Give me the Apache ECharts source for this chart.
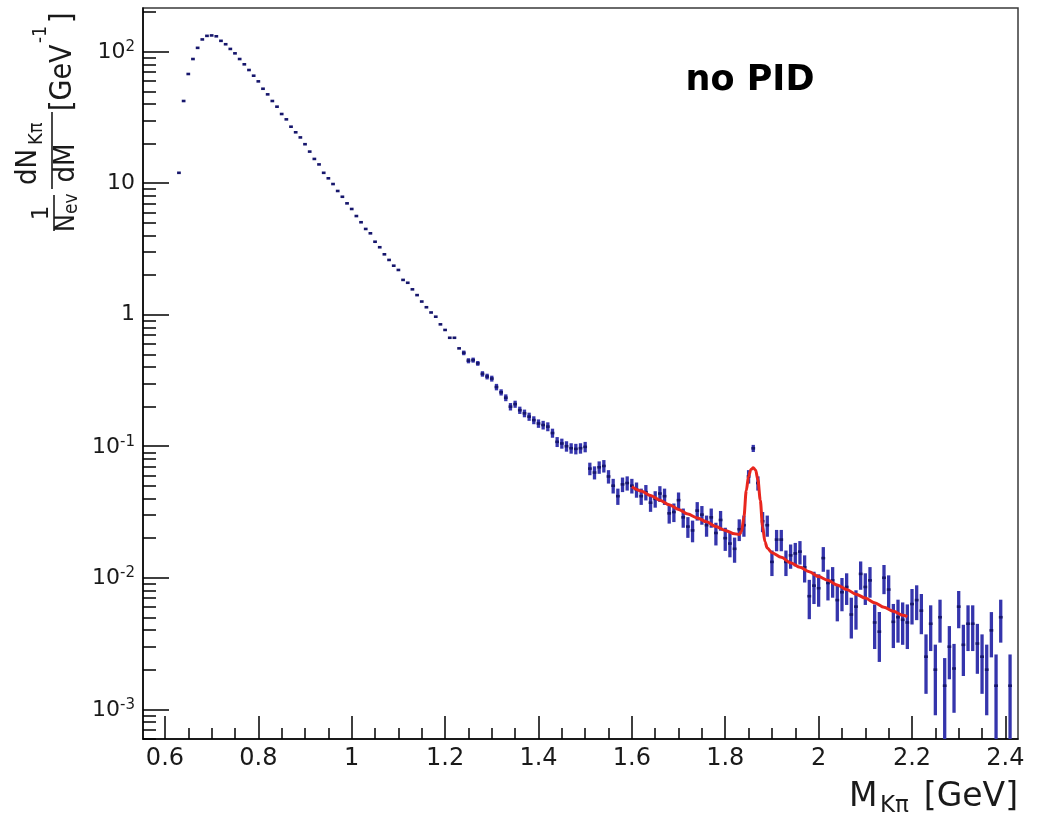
<!DOCTYPE html>
<html>
<head>
<meta charset="utf-8">
<script src="https://cdn.jsdelivr.net/npm/echarts@6/dist/echarts.min.js"></script>
<style>
html,body{margin:0;padding:0;background:#fff;}
#chart{width:1038px;height:816px;}
</style>
</head>
<body>
<div id="chart"></div>
<script>
// ---------------- data ----------------
var massBins = [
  0.63,0.64,0.65,0.66,0.67,0.68,0.69,
  0.70,0.71,0.72,0.73,0.74,0.75,0.76,0.77,0.78,0.79,
  0.80,0.81,0.82,0.83,0.84,0.85,0.86,0.87,0.88,0.89,
  0.90,0.91,0.92,0.93,0.94,0.95,0.96,0.97,0.98,0.99,
  1.00,1.01,1.02,1.03,1.04,1.05,1.06,1.07,1.08,1.09,
  1.10,1.11,1.12,1.13,1.14,1.15,1.16,1.17,1.18,1.19,
  1.20,1.21,1.22,1.23,1.24,1.25,1.26,1.27,1.28,1.29,
  1.30,1.31,1.32,1.33,1.34,1.35,1.36,1.37,1.38,1.39,
  1.40,1.41,1.42,1.43,1.44,1.45,1.46,1.47,1.48,1.49,
  1.50,1.51,1.52,1.53,1.54,1.55,1.56,1.57,1.58,1.59,
  1.60,1.61,1.62,1.63,1.64,1.65,1.66,1.67,1.68,1.69,
  1.70,1.71,1.72,1.73,1.74,1.75,1.76,1.77,1.78,1.79,
  1.80,1.81,1.82,1.83,1.84,1.85,1.86,1.87,1.88,1.89,
  1.90,1.91,1.92,1.93,1.94,1.95,1.96,1.97,1.98,1.99,
  2.00,2.01,2.02,2.03,2.04,2.05,2.06,2.07,2.08,2.09,
  2.10,2.11,2.12,2.13,2.14,2.15,2.16,2.17,2.18,2.19,
  2.20,2.21,2.22,2.23,2.24,2.25,2.26,2.27,2.28,2.29,
  2.30,2.31,2.32,2.33,2.34,2.35,2.36,2.37,2.38,2.39,
  2.40,2.41
];
var yields = [
  12.0,42.2,67.7,88.0,107,124,132,
  133,131,121,114,105,97.2,88.0,80.2,72.6,65.7,
  59.5,52.3,47.4,42.2,38.2,33.6,30.6,26.9,24.4,22.3,
  19.8,17.4,15.3,13.9,12.0,10.9,9.86,8.73,7.89,7.03,
  6.37,5.63,5.05,4.49,4.16,3.59,3.26,2.88,2.61,2.36,
  2.19,1.84,1.75,1.56,1.41,1.26,1.14,1.04,0.966,0.845,
  0.766,0.668,0.668,0.555,0.513,0.447,0.452,0.427,0.355,0.339,
  0.327,0.282,0.257,0.234,0.200,0.209,0.188,0.178,0.168,0.158,
  0.149,0.145,0.141,0.126,0.108,0.105,0.100,0.0966,0.0955,0.0966,
  0.0989,0.0676,0.0631,0.0692,0.0708,0.0589,0.0501,0.0417,0.0513,0.0525,
  0.0501,0.0468,0.0417,0.0447,0.0372,0.0398,0.0437,0.0417,0.0309,0.0316,
  0.0389,0.0288,0.0245,0.0229,0.0324,0.0302,0.0251,0.0288,0.0219,0.0275,
  0.0200,0.0182,0.0166,0.0234,0.0251,0.0589,0.0964,0.0525,0.0269,0.0251,
  0.0132,0.0195,0.0195,0.0132,0.0148,0.0153,0.0158,0.0120,0.00724,0.00871,
  0.00832,0.0141,0.00912,0.00955,0.00676,0.00776,0.00851,0.00525,0.00603,0.0107,
  0.00851,0.00955,0.00457,0.00389,0.0100,0.00813,0.00462,0.00501,0.00479,0.00457,
  0.00631,0.00676,0.00562,0.00251,0.00447,0.00200,0.00501,0.00151,0.00299,0.00204,
  0.00603,0.00309,0.00447,0.00447,0.00316,0.00251,0.00200,0.00398,0.00151,0.00501,
  null,0.00151
];
var yieldErrors = [
  0,0,0,0,0,0,0,
  0,0,0,0,0,0,0,0,0,0,
  0,0,0,0,0,0,0,0,0,0,
  0,0,0,0,0,0,0,0,0,0,
  0,0,0,0,0,0,0,0,0,0,
  0,0,0,0,0,0,0,0,0,0,
  0,0,0,0,0.021,0.020,0.020,0.018,0.017,0.017,
  0.017,0.016,0.014,0.014,0.013,0.013,0.012,0.012,0.012,0.011,
  0.011,0.011,0.011,0.010,0.0094,0.0092,0.0091,0.0088,0.0088,0.0088,
  0.0090,0.0074,0.0072,0.0075,0.0077,0.0069,0.0064,0.0059,0.0065,0.0065,
  0.0064,0.0062,0.0059,0.0060,0.0055,0.0057,0.0060,0.0059,0.0051,0.0051,
  0.0056,0.0048,0.0044,0.0043,0.0052,0.0049,0.0046,0.0048,0.0043,0.0047,
  0.0040,0.0039,0.0036,0.0044,0.0046,0.0069,0.0060,0.0065,0.0047,0.0046,
  0.0029,0.0036,0.0036,0.0029,0.0031,0.0031,0.0032,0.0028,0.0024,0.0024,
  0.0023,0.0030,0.0024,0.0025,0.0021,0.0022,0.0023,0.0018,0.0020,0.0026,
  0.0023,0.0025,0.0017,0.0016,0.0025,0.0023,0.0017,0.0018,0.0017,0.0017,
  0.0019,0.0020,0.0019,0.0012,0.0017,0.0011,0.0018,0.00094,0.0013,0.0011,
  0.0019,0.0013,0.0017,0.0017,0.0013,0.0012,0.0011,0.0015,0.0011,0.0018,
  null,0.0011
];
var fitMass = [
  1.60,1.62,1.64,1.66,1.68,1.70,1.72,1.74,1.76,1.78,1.80,1.82,1.83,
  1.835,1.84,1.845,1.85,1.855,1.86,1.865,1.87,1.875,1.88,1.885,1.89,
  1.90,1.92,1.94,1.96,1.98,2.00,2.02,2.04,2.06,2.08,2.10,2.12,2.14,2.16,2.18,2.19
];
var fitValues = [
  0.0492,0.0457,0.0422,0.0389,0.0359,0.0331,0.0305,0.0285,0.0266,0.0245,0.0229,0.0216,0.0213,
  0.0225,0.0290,0.0460,0.0590,0.0665,0.0685,0.0660,0.0555,0.0390,0.0245,0.0188,0.0168,
  0.0155,0.0143,0.0130,0.0120,0.0111,0.0102,0.00955,0.00881,0.00813,0.00750,0.00700,0.00646,0.00596,0.00556,0.00519,0.00507
];
var xMajorTicks = [0.6,0.8,1.0,1.2,1.4,1.6,1.8,2.0,2.2,2.4];
var xMinorTicks = [0.65,0.70,0.75,0.85,0.90,0.95,1.05,1.10,1.15,1.25,1.30,1.35,1.45,1.50,1.55,
  1.65,1.70,1.75,1.85,1.90,1.95,2.05,2.10,2.15,2.25,2.30,2.35];
var yMajorTicks = [0.001,0.01,0.1,1,10,100];
var yMinorTicks = [0.0006,0.0007,0.0008,0.0009,
  0.002,0.003,0.004,0.005,0.006,0.007,0.008,0.009,
  0.02,0.03,0.04,0.05,0.06,0.07,0.08,0.09,
  0.2,0.3,0.4,0.5,0.6,0.7,0.8,0.9,
  2,3,4,5,6,7,8,9,
  20,30,40,50,60,70,80,90,200];
var X_MIN = 0.553, X_MAX = 2.427;
var Y_MIN = 0.000594, Y_MAX = 215;
var BIN_HALF = 0.004;

// ---------------- build ----------------
var pts = [];
for (var i = 0; i < massBins.length; i++) {
  if (yields[i] == null) continue;
  pts.push([massBins[i], yields[i], yieldErrors[i] || 0]);
}
var fitData = fitMass.map(function (m, i) { return [m, fitValues[i]]; });

var FONT = 'DejaVu Sans';
var TXT = '#1a1a1a';
var chart = echarts.init(document.getElementById('chart'), null, {renderer: 'canvas'});

var axisCommonX = {type: 'value', min: X_MIN, max: X_MAX, gridIndex: 0, position: 'bottom', splitLine: {show: false}};
var axisCommonY = {type: 'log', logBase: 10, min: Y_MIN, max: Y_MAX, gridIndex: 0, position: 'left', splitLine: {show: false}};

function ttl(x, y, text, size, align, sy) {
  return {type: 'text', x: x, y: y, scaleY: sy || 1.12,
    style: {text: text, font: size + 'px "DejaVu Sans"', fill: TXT, align: align, verticalAlign: 'middle'}};
}

var option = {
  animation: false,
  backgroundColor: '#ffffff',
  grid: {left: 143, top: 8, right: 20, bottom: 77, show: true, borderColor: '#3a3a3a', borderWidth: 1.5, backgroundColor: 'transparent'},
  xAxis: [
    Object.assign({}, axisCommonX, {
      axisLine: {show: true, onZero: false, lineStyle: {color: '#000', width: 1.5}},
      axisTick: {show: true, inside: true, length: 23, customValues: xMajorTicks, lineStyle: {color: '#000', width: 1.5}},
      axisLabel: {show: true, customValues: xMajorTicks, fontFamily: FONT, fontSize: 24, color: TXT, margin: 8}
    }),
    Object.assign({}, axisCommonX, {
      axisLine: {show: false},
      axisTick: {show: true, inside: true, length: 11, customValues: xMinorTicks, lineStyle: {color: '#000', width: 1.5}},
      axisLabel: {show: false}
    })
  ],
  yAxis: [
    Object.assign({}, axisCommonY, {
      axisLine: {show: true, onZero: false, lineStyle: {color: '#000', width: 1.5}},
      axisTick: {show: true, inside: true, length: 26, customValues: yMajorTicks, lineStyle: {color: '#000', width: 1.5}},
      axisLabel: {
        show: true, customValues: yMajorTicks, fontFamily: FONT, fontSize: 22, color: TXT, margin: 8,
        lineHeight: 24,
        formatter: function (v) {
          var p = Math.round(Math.log10(v));
          if (p === 0) return '1';
          if (p === 1) return '10';
          return '{b|10}{sup|' + p + '}';
        },
        rich: {
          b: {fontFamily: FONT, fontSize: 22, color: TXT, lineHeight: 24, verticalAlign: 'bottom'},
          sup: {fontFamily: FONT, fontSize: 15, color: TXT, lineHeight: 14, verticalAlign: 'top'}
        }
      }
    }),
    Object.assign({}, axisCommonY, {
      axisLine: {show: false},
      axisTick: {show: true, inside: true, length: 13, customValues: yMinorTicks, lineStyle: {color: '#000', width: 1.5}},
      axisLabel: {show: false}
    })
  ],
  series: [
    {
      type: 'custom',
      xAxisIndex: 0, yAxisIndex: 0,
      clip: true,
      data: pts,
      encode: {x: 0, y: 1},
      renderItem: function (params, api) {
        var x = api.value(0), y = api.value(1), e = api.value(2);
        var p = api.coord([x, y]);
        var children = [];
        if (e > 0) {
          var lo = (y - e) > 0 ? (y - e) : y * 1e-3;
          var top = api.coord([x, y + e]);
          var bot = api.coord([x, lo]);
          children.push({type: 'line', shape: {x1: p[0], y1: top[1], x2: p[0], y2: bot[1]},
            style: {stroke: '#3535ac', lineWidth: 3.3}});
        }
        var l = api.coord([x - BIN_HALF, y]), r = api.coord([x + BIN_HALF, y]);
        children.push({type: 'line', shape: {x1: l[0], y1: p[1], x2: r[0], y2: p[1]},
          style: {stroke: '#16166c', lineWidth: 2.6}});
        return {type: 'group', children: children};
      },
      z: 3
    },
    {
      type: 'line',
      xAxisIndex: 0, yAxisIndex: 0,
      data: fitData,
      showSymbol: false,
      smooth: 0.3,
      smoothMonotone: 'x',
      lineStyle: {color: '#e8261e', width: 3},
      z: 4
    }
  ],
  graphic: [
    {type: 'text', x: 750, y: 81, z: 10,
      style: {text: 'no PID', font: 'bold 35px "DejaVu Sans"', fill: '#000', align: 'center', verticalAlign: 'middle'}},
    {type: 'text', x: 849, y: 797, z: 10,
      style: {text: 'M', font: '33px "DejaVu Sans"', fill: TXT, align: 'left', verticalAlign: 'middle'}},
    {type: 'text', x: 880, y: 806, z: 10,
      style: {text: 'Kπ', font: '23px "DejaVu Sans"', fill: TXT, align: 'left', verticalAlign: 'middle'}},
    {type: 'text', x: 1018, y: 797, z: 10,
      style: {text: '[GeV]', font: '33px "DejaVu Sans"', fill: TXT, align: 'right', verticalAlign: 'middle'}},
    {type: 'group', x: 0, y: 233, rotation: Math.PI / 2, z: 10, children: [
      ttl(20, 42, '1', 23, 'center', 1),
      {type: 'line', shape: {x1: 2, y1: 54, x2: 38, y2: 54}, style: {stroke: TXT, lineWidth: 1.6}},
      ttl(1, 67, 'N', 24, 'left'),
      ttl(19, 72, 'ev', 17, 'left'),
      ttl(66, 28, 'dN', 26, 'center'),
      ttl(88, 37, 'Kπ', 18, 'left'),
      {type: 'line', shape: {x1: 44, y1: 52, x2: 121, y2: 52}, style: {stroke: TXT, lineWidth: 1.6}},
      ttl(70, 66, 'dM', 26, 'center'),
      ttl(122, 63, '[GeV', 27, 'left'),
      ttl(190, 41, '-1', 17, 'left'),
      ttl(210, 63, ']', 27, 'left')
    ]}
  ]
};
chart.setOption(option);
</script>
</body>
</html>
